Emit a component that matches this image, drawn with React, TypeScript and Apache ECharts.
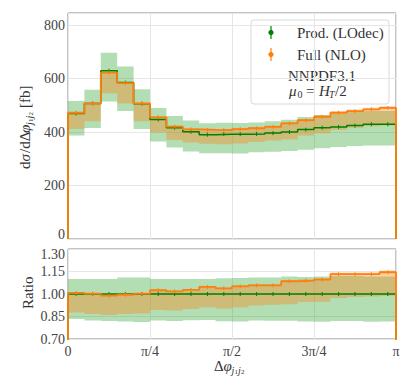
import React, { useEffect, useRef } from 'react';
import * as echarts from 'echarts';

const NB = 20;
const binEdges = Array.from({ length: NB + 1 }, (_, i) => (i * Math.PI) / NB);

// Upper panel: dσ/dΔφ [fb]
const greenTop = [469, 507, 629, 585, 506, 447, 416, 401, 390, 392, 392, 393, 396, 400, 409, 416, 419, 424, 429, 429];
const greenTopHi = [516, 558, 696, 645, 560, 490, 460, 443, 433, 435, 434, 436, 440, 446, 456, 464, 469, 475, 479, 479];
const greenTopLo = [387, 415, 514, 479, 411, 365, 342, 327, 321, 321, 320, 324, 326, 329, 334, 339, 344, 348, 350, 350];
const orangeTop = [472, 507, 622, 583, 507, 455, 420, 410, 408, 407, 411, 414, 419, 432, 444, 457, 472, 478, 485, 490];
const orangeTopHi = [475, 510, 626, 586, 510, 459, 424, 414, 412, 411, 415, 419, 424, 437, 449, 462, 478, 484, 491, 496];
const orangeTopLo = [411, 440, 545, 507, 440, 399, 370, 361, 356, 354, 357, 363, 368, 372, 387, 395, 408, 416, 422, 424];

// Lower panel: ratio to Prod. (LOdec)
const ratioGreen = [1, 1, 1, 1, 1, 1, 1, 1, 1, 1, 1, 1, 1, 1, 1, 1, 1, 1, 1, 1];
const ratioGreenHi = [1.1, 1.1, 1.1, 1.11, 1.11, 1.1, 1.1, 1.1, 1.1, 1.105, 1.107, 1.11, 1.11, 1.116, 1.114, 1.116, 1.12, 1.12, 1.117, 1.117];
const ratioGreenLo = [0.834, 0.823, 0.82, 0.816, 0.814, 0.823, 0.82, 0.825, 0.827, 0.818, 0.817, 0.824, 0.822, 0.822, 0.817, 0.815, 0.82, 0.82, 0.815, 0.817];
const ratioOrange = [1.007, 1.002, 0.989, 0.995, 1.002, 1.025, 1.018, 1.027, 1.047, 1.038, 1.051, 1.058, 1.058, 1.085, 1.089, 1.096, 1.132, 1.132, 1.132, 1.145];
const ratioOrangeHi = [1.012, 1.007, 0.995, 1.0, 1.007, 1.031, 1.024, 1.033, 1.053, 1.044, 1.058, 1.065, 1.066, 1.093, 1.098, 1.106, 1.143, 1.143, 1.144, 1.156];
const ratioOrangeLo = [0.876, 0.867, 0.86, 0.867, 0.87, 0.894, 0.89, 0.9, 0.912, 0.904, 0.911, 0.924, 0.929, 0.931, 0.946, 0.949, 0.973, 0.98, 0.984, 0.989];

const xTickLabels = ['0', 'π/4', 'π/2', '3π/4', 'π'];
const legendNames = ['Prod. (LOdec)', 'Full (NLO)'];

const FONT = 'Liberation Serif';
const AXFONT = 'serif';
const GREEN = '#008000';
const ORANGE = '#ff7f0e';
const GREEN_FILL = 'rgba(44,160,44,0.36)';
const ORANGE_FILL = 'rgba(255,127,14,0.36)';
const LABEL = '#444';
const TEXT = '#333';
const GRIDC = '#e6e6e6';

function stepData(vals: number[], floor: number) {
  return [
    [0, floor],
    ...vals.map((v, i) => [binEdges[i], v]),
    [binEdges[NB], vals[NB - 1]],
    [binEdges[NB], floor],
  ];
}

function band(lo: number[], hi: number[], fill: string, idx: number, z: number) {
  return {
    type: 'custom',
    xAxisIndex: idx,
    yAxisIndex: idx,
    silent: true,
    clip: true,
    z,
    data: [[0, 0]],
    renderItem: (_p: any, api: any) => {
      const pts: number[][] = [];
      for (let i = 0; i < NB; i++) {
        pts.push(api.coord([binEdges[i], hi[i]]));
        pts.push(api.coord([binEdges[i + 1], hi[i]]));
      }
      for (let i = NB - 1; i >= 0; i--) {
        pts.push(api.coord([binEdges[i + 1], lo[i]]));
        pts.push(api.coord([binEdges[i], lo[i]]));
      }
      return { type: 'polygon', shape: { points: pts }, style: { fill } };
    },
  };
}

function stepLine(vals: number[], color: string, width: number, idx: number, floor: number, z: number) {
  return {
    type: 'line',
    step: 'end',
    xAxisIndex: idx,
    yAxisIndex: idx,
    symbol: 'none',
    silent: true,
    z,
    data: stepData(vals, floor),
    lineStyle: { color, width },
  };
}

function ticks(vals: number[], color: string, idx: number, z: number) {
  return {
    type: 'custom',
    xAxisIndex: idx,
    yAxisIndex: idx,
    silent: true,
    z,
    data: vals.map((v, i) => [(binEdges[i] + binEdges[i + 1]) / 2, v]),
    renderItem: (_p: any, api: any) => {
      const p = api.coord([api.value(0), api.value(1)]);
      return {
        type: 'line',
        shape: { x1: p[0], y1: p[1] - 2, x2: p[0], y2: p[1] + 2 },
        style: { stroke: color, lineWidth: 1 },
      };
    },
  };
}

function piece(text: string, x: number, y: number, size: number, italic = false, family = FONT) {
  return {
    type: 'text',
    x,
    y,
    style: {
      text,
      fontSize: size,
      fontFamily: family,
      fontStyle: italic ? 'italic' : 'normal',
      fontWeight: 'normal',
      fill: TEXT,
      align: 'left',
      verticalAlign: 'middle',
    },
  };
}

const axisFont = { fontFamily: AXFONT, fontStyle: 'normal', fontWeight: 'normal', fontSize: 14, color: LABEL };

function buildOption() {
  return {
    animation: false,
    textStyle: { fontFamily: AXFONT, fontStyle: 'normal', fontWeight: 'normal' },
    grid: [
      { left: 68, right: 21, top: 13, height: 226, show: true, borderColor: '#888', borderWidth: 1, backgroundColor: 'transparent' },
      { left: 68, right: 21, top: 249, height: 90, show: true, borderColor: '#888', borderWidth: 1, backgroundColor: 'transparent' },
    ],
    xAxis: [
      {
        type: 'value', gridIndex: 0, min: 0, max: Math.PI, interval: Math.PI / 4,
        axisLabel: { show: false }, axisTick: { show: false }, axisLine: { show: false },
        splitLine: { show: true, lineStyle: { color: GRIDC, width: 1 } },
      },
      {
        type: 'value', gridIndex: 1, min: 0, max: Math.PI, interval: Math.PI / 4,
        axisTick: { show: false }, axisLine: { show: false },
        splitLine: { show: true, lineStyle: { color: GRIDC, width: 1 } },
        axisLabel: {
          ...axisFont, show: true, margin: 5,
          showMinLabel: true, showMaxLabel: true,
          formatter: (v: number) => xTickLabels[Math.round(v / (Math.PI / 4))] ?? '',
        },
      },
    ],
    yAxis: [
      {
        type: 'value', gridIndex: 0, min: 0, max: 845, interval: 200,
        axisTick: { show: false }, axisLine: { show: false },
        splitLine: { show: true, lineStyle: { color: GRIDC, width: 1 } },
        axisLabel: { ...axisFont, margin: 3, lineHeight: 10, showMaxLabel: false, verticalAlignMinLabel: 'bottom' },
      },
      {
        type: 'value', gridIndex: 1, min: 0.7, max: 1.3, interval: 0.15,
        axisTick: { show: false }, axisLine: { show: false },
        splitLine: { show: true, lineStyle: { color: GRIDC, width: 1 } },
        axisLabel: {
          ...axisFont, margin: 3, lineHeight: 10, showMaxLabel: true, showMinLabel: true, verticalAlignMaxLabel: 'top',
          formatter: (v: number) => v.toFixed(2),
        },
      },
    ],
    series: [
      band(greenTopLo, greenTopHi, GREEN_FILL, 0, 1),
      band(orangeTopLo, orangeTopHi, ORANGE_FILL, 0, 2),
      stepLine(greenTop, GREEN, 1.5, 0, 0, 3),
      ticks(greenTop, GREEN, 0, 3),
      stepLine(orangeTop, ORANGE, 1.8, 0, 0, 4),
      ticks(orangeTop, ORANGE, 0, 4),
      band(ratioGreenLo, ratioGreenHi, GREEN_FILL, 1, 1),
      band(ratioOrangeLo, ratioOrangeHi, ORANGE_FILL, 1, 2),
      stepLine(ratioGreen, GREEN, 1.5, 1, 0.5, 3),
      ticks(ratioGreen, GREEN, 1, 3),
      stepLine(ratioOrange, ORANGE, 1.8, 1, 0.5, 4),
      ticks(ratioOrange, ORANGE, 1, 4),
    ],
    graphic: [
      {
        type: 'rect',
        shape: { x: 251, y: 20, width: 138, height: 84, r: 3 },
        style: { fill: 'rgba(255,255,255,0.85)', stroke: '#d8d8d8', lineWidth: 1 },
      },
      { type: 'line', shape: { x1: 271, y1: 26, x2: 271, y2: 39 }, style: { stroke: GREEN, lineWidth: 1.2 } },
      { type: 'circle', shape: { cx: 271, cy: 32.5, r: 2.6 }, style: { fill: GREEN } },
      { type: 'line', shape: { x1: 271, y1: 48, x2: 271, y2: 61 }, style: { stroke: ORANGE, lineWidth: 1.2 } },
      { type: 'circle', shape: { cx: 271, cy: 54.5, r: 2.6 }, style: { fill: ORANGE } },
      { type: 'group', children: [
        piece(legendNames[0], 297, 32.5, 15),
        piece(legendNames[1], 297, 54.5, 15),
        piece('NNPDF3.1', 288, 76, 15),
        // μ0 = HT/2
        piece('μ', 289, 91, 15, true),
        piece('0', 297.5, 94, 10),
        piece('=', 306, 91, 15),
        piece('H', 319, 91, 15, true),
        piece('T', 329, 94, 10, true),
        piece('/2', 335, 91, 15),
      ] },
      // y-axis title, rotated (local +x points up the page)
      { type: 'group', x: 25, y: 126, rotation: Math.PI / 2, children: [
        piece('d', -43, 0, 15, false, AXFONT),
        piece('σ', -35.5, 0, 15, true, AXFONT),
        piece('/dΔ', -27, 0, 15, false, AXFONT),
        piece('φ', -7, 0, 15, true, AXFONT),
        piece('j', 1, 4, 10, true, AXFONT),
        piece('1', 4, 5.5, 7, false, AXFONT),
        piece('j', 7.5, 4, 10, true, AXFONT),
        piece('2', 10.5, 5.5, 7, false, AXFONT),
        piece('[fb]', 18, 0, 15, false, AXFONT),
      ] },
      { type: 'group', x: 28, y: 294, rotation: Math.PI / 2, children: [
        piece('Ratio', -15, 0, 15, false, AXFONT),
      ] },
      // x-axis title
      { type: 'group', x: 232, y: 366, children: [
        piece('Δ', -18, 0, 15, false, AXFONT),
        piece('φ', -8.5, 0, 15, true, AXFONT),
        piece('j', -0.5, 4, 10, true, AXFONT),
        piece('1', 2.5, 5.5, 7, false, AXFONT),
        piece('j', 6, 4, 10, true, AXFONT),
        piece('2', 9, 5.5, 7, false, AXFONT),
      ] },
    ],
  };
}

export default function App() {
  const ref = useRef<HTMLDivElement>(null);
  useEffect(() => {
    if (!ref.current) return;
    const chart = echarts.init(ref.current, null, { renderer: 'svg' });
    chart.setOption(buildOption() as any);
    return () => chart.dispose();
  }, []);
  return (
    <div
      ref={ref}
      style={{ position: 'fixed', left: 0, top: 0, width: 417, height: 382, background: '#fff' }}
    />
  );
}
